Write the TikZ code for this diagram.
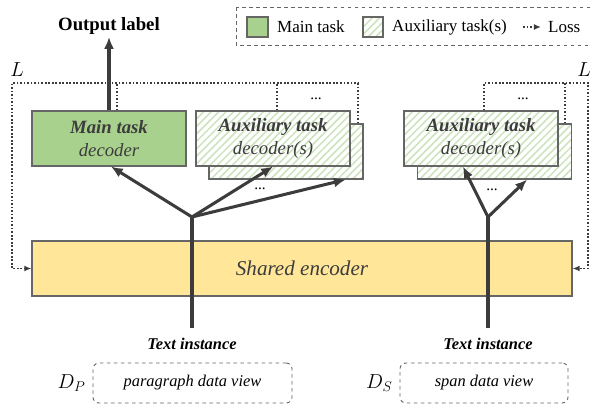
\documentclass[tikz,border=0pt]{standalone}
\usepackage{fontspec}
\setmainfont{Liberation Serif}
\usetikzlibrary{arrows.meta, calc, patterns.meta}
\definecolor{maingreen}{HTML}{A9D18E}
\definecolor{encyellow}{HTML}{FFE699}
\definecolor{hatchgreen}{HTML}{CDE3BE}
\definecolor{edgegray}{HTML}{666666}
\definecolor{darkgray}{HTML}{3C3C3C}
\def\pxu{0.03cm}

\begin{document}
\begin{tikzpicture}[x=\pxu, y=-\pxu,
	box/.style={draw=edgegray, line width=1pt, minimum width=154*\pxu, minimum height=55*\pxu,
		inner sep=0pt, text=darkgray, align=center, font=\fontsize{16}{20}\selectfont\itshape},
	maindec/.style={box, fill=maingreen},
	auxdec/.style={box, preaction={fill=white}, pattern={Lines[angle=45, distance=4.5pt, line width=1.3pt]}, pattern color=hatchgreen},
	feed/.style={draw=darkgray, line width=2.6pt, -{Latex[length=10pt, width=8.5pt]}},
	stem/.style={draw=darkgray, line width=3pt},
	loss/.style={draw=darkgray, line width=1.6pt, dash pattern=on 1.5pt off 1.5pt},
	lossarrow/.style={loss, -{Latex[length=6pt, width=5pt]}},
	viewbox/.style={draw=edgegray, dashed, line width=0.8pt, rounded corners=5pt, minimum height=40*\pxu,
		font=\fontsize{14}{16}\selectfont\itshape},
	keytext/.style={anchor=west, inner sep=0pt, font=\fontsize{14.5}{16}\selectfont},
	dots/.style={font=\fontsize{13}{14}\selectfont, text=black}]
	\clip (0,0) rectangle (590,405);
	\useasboundingbox (0,0) rectangle (590,405);

	% legend
	\draw[dashed, draw=edgegray, line width=0.8pt] (236,7) rectangle (600,45);
	\node[box, fill=maingreen, minimum width=21*\pxu, minimum height=20*\pxu] (keymain) at (257.5,27) {};
	\node[keytext] (keymaintxt) at (277,27) {Main task};
	\node[auxdec, minimum width=20*\pxu, minimum height=20*\pxu] (keyaux) at (373,27) {};
	\node[keytext] (keyauxtxt) at (392,27) {Auxiliary task(s)};
	\coordinate (keyloss) at (523,27);
	\node[keytext] (keylosstxt) at (548,27) {Loss};
	\draw[lossarrow] (keyloss) -- ($(keylosstxt.west)+(-7,0)$);

	% decoders
	\node[maindec] (main) at (109,138.5) {\textbf{Main task}\\decoder};
	\node[auxdec] (auxAb) at (286,151.5) {};
	\node[auxdec] (auxAf) at (273,138.5) {\textbf{Auxiliary task}\\decoder(s)};
	\node[auxdec] (auxBb) at (494.5,151.5) {};
	\node[auxdec] (auxBf) at (481,138.5) {\textbf{Auxiliary task}\\decoder(s)};
	\node[dots] (dotsA) at (316,99) {...};
	\node[dots] (dotsB) at (523,99) {...};

	% encoder
	\node[box, fill=encyellow, minimum width=540*\pxu, font=\fontsize{18}{22}\selectfont\itshape] (enc) at (302,268.5) {Shared encoder};

	% output
	\node[font=\fontsize{16}{18}\selectfont\bfseries, inner sep=2pt] (outlbl) at (109,26) {Output label};
	\draw[feed] (main.north) -- (outlbl.south);

	% loss
	\coordinate (cornerL) at (12,83);
	\coordinate (cornerR) at (588,83);
	\node[font=\fontsize{16}{18}\selectfont] (lossL) at (17,70) {$L$};
	\node[font=\fontsize{16}{18}\selectfont] (lossR) at (584,70) {$L$};
	\draw[loss] ($(main.north)+(8,0)$) -- ($(main.north)+(8,-28)$);
	\draw[loss] ($(auxAf.north)+(4,0)$) -- ($(auxAf.north)+(4,-28)$);
	\draw[lossarrow] ($(auxAb.north east)+(-6,0)$) |- (cornerL) |- (enc.west);
	\draw[loss] ($(auxBb.north east)+(-7,0)$) -- ($(auxBb.north east)+(-7,-41)$);
	\draw[lossarrow] ($(auxBf.north)+(3,0)$) |- (cornerR) |- (enc.east);

	% inputs
	\node[font=\fontsize{14}{16}\selectfont\bfseries\itshape] (txtP) at (192,344) {Text instance};
	\node[font=\fontsize{14}{16}\selectfont\bfseries\itshape] (txtS) at (488,344) {Text instance};
	\coordinate (forkP) at (192,217);
	\coordinate (forkS) at (488,217);
	\draw[stem] ($(txtP.north)+(0,-6)$) -- (forkP);
	\draw[stem] ($(txtS.north)+(0,-6)$) -- (forkS);
	\draw[feed] (forkP) -- ($(main.south)+(2,0)$);
	\draw[feed] (forkP) -- (auxAf.south);
	\draw[feed] (forkP) -- ($(auxAb.south east)+(-18,0)$);
	\draw[feed] (forkS) -- ($(auxBf.south)+(-18,0)$);
	\draw[feed] (forkS) -- ($(auxBb.south)+(32.5,0)$);
	\node[dots] (dotsC) at (260,189) {...};
	\node[dots] (dotsD) at (492,190) {...};

	% data views
	\node[viewbox, minimum width=199*\pxu] (viewP) at (192.5,383) {paragraph data view};
	\node[viewbox, minimum width=168*\pxu] (viewS) at (484,383) {span data view};
	\node[font=\fontsize{17}{18}\selectfont, anchor=east, xshift=-3*\pxu] (dP) at (viewP.west) {$D_P$};
	\node[font=\fontsize{17}{18}\selectfont, anchor=east, xshift=-3*\pxu] (dS) at (viewS.west) {$D_S$};
\end{tikzpicture}
\end{document}
